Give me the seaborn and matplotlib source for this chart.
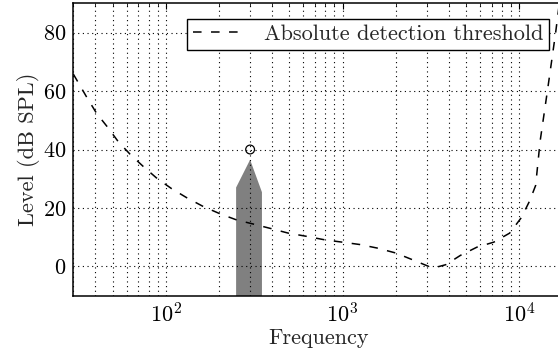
import numpy as np
import pandas as pd
import matplotlib
matplotlib.use("Agg")
import matplotlib.pyplot as plt
import seaborn as sns
from matplotlib.ticker import LogLocator, NullFormatter, FixedLocator

# ---- data ----
freq_hz = [30, 35.8, 40.7, 46.8, 54, 62.8, 74.6, 89.7, 108, 131.5, 163, 203, 252,
           313, 397, 493, 626, 794, 1000, 1253, 1568, 2000, 2485, 3046, 3420,
           3835, 4645, 5755, 7160, 8810, 10260, 11430, 12360, 13100, 14500,
           16040, 17500]
threshold_db = [65.8, 57.8, 52.3, 47.7, 42.6, 38.4, 34.2, 30.0, 26.6, 23.5, 20.5,
                18.0, 15.9, 14.5, 12.9, 11.4, 10.3, 9.1, 8.3, 7.5, 6.3, 4.6, 2.3,
                0.1, -0.2, 0.6, 3.8, 6.6, 8.3, 11.4, 16.7, 22.4, 27.7, 42.8, 61.2,
                80.0, 98.0]
band_freq = [250, 250, 300, 350, 350]
band_level = [-20, 27, 36.5, 25.4, -20]
probe_freq = [300]
probe_level = [40]
y_ticks = [0, 20, 40, 60, 80]
legend_label = "Absolute detection threshold"

sns.set_style("white")
plt.rcParams["font.family"] = ["cmr10", "DejaVu Serif"]
plt.rcParams["mathtext.fontset"] = "cm"
plt.rcParams["axes.formatter.use_mathtext"] = True
plt.rcParams["axes.unicode_minus"] = False

FS = 16
W, H = 558, 353
fig = plt.figure(figsize=(W / 100, H / 100), dpi=100)
left, right, top, bottom = 73.3, 564.5, 3.3, 295.7
ax = fig.add_axes([left / W, (H - bottom) / H, (right - left) / W, (bottom - top) / H])
ax.set_xscale("log")

df = pd.DataFrame({"Frequency": freq_hz, "Level": threshold_db})
sns.lineplot(data=df, x="Frequency", y="Level", ax=ax, color="black",
             linewidth=1.1, linestyle=(0, (5.6, 6.2)), label=legend_label,
             sort=True, estimator=None)

ax.fill(band_freq, band_level, color="#808080", lw=0, zorder=1)
sns.scatterplot(x=probe_freq, y=probe_level, ax=ax, marker="o", s=40,
                facecolor="none", edgecolor="black", linewidth=0.9, zorder=4)

ax.set_xlim(30, 18000)
ax.set_ylim(-10, 90)
ax.yaxis.set_major_locator(FixedLocator(y_ticks))
ax.xaxis.set_major_locator(LogLocator(base=10, numticks=10))
ax.xaxis.set_minor_locator(LogLocator(base=10, subs=np.arange(2, 10), numticks=20))
ax.xaxis.set_minor_formatter(NullFormatter())

grid_kw = dict(color="black", linestyle=(0, (1, 3.2)), linewidth=0.8)
ax.grid(True, which="major", axis="both", **grid_kw)
ax.grid(True, which="minor", axis="x", **grid_kw)
ax.set_axisbelow(False)

ax.tick_params(which="both", direction="in", top=True, right=True,
               labelsize=FS, colors="black")
ax.tick_params(which="major", length=4.5, width=0.8, pad=5)
ax.tick_params(which="minor", length=2.2, width=0.6)

for s in ax.spines.values():
    s.set_color("black")
    s.set_linewidth(1.1)

ax.set_xlabel("Frequency", fontsize=FS, labelpad=1)
ax.set_ylabel("Level (dB SPL)", fontsize=FS, labelpad=2)

leg = ax.legend(loc="upper right", fontsize=FS, frameon=True, fancybox=False,
                edgecolor="black", framealpha=1, borderpad=0.25,
                handlelength=2.4, handletextpad=0.8, borderaxespad=0.7)
leg.get_frame().set_linewidth(1.0)

fig.savefig("out.png", dpi=100)
